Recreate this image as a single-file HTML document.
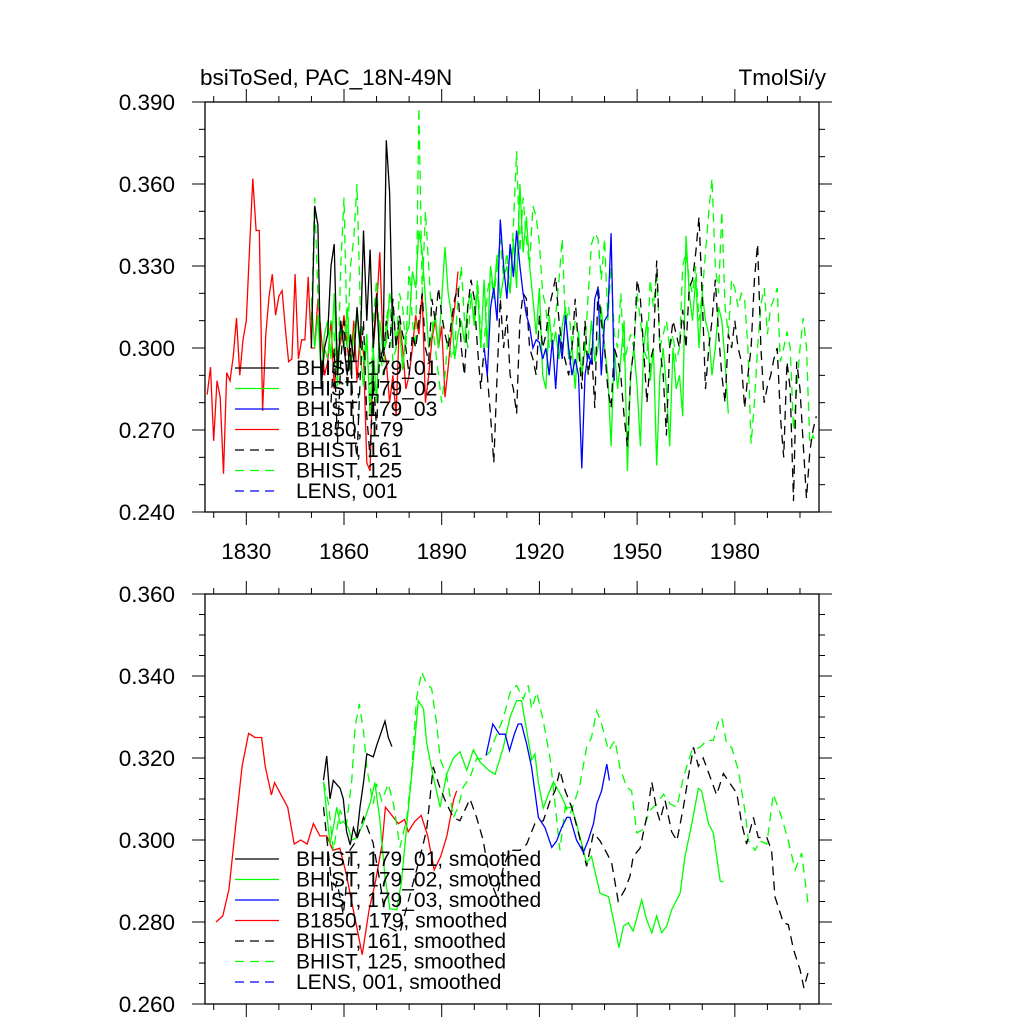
<!DOCTYPE html>
<html><head><meta charset="utf-8"><style>
html,body{margin:0;padding:0;background:#fff;}
svg{display:block;font-family:"Liberation Sans",sans-serif;}
</style></head><body>
<svg id="chart" width="1024" height="1024" viewBox="0 0 1024 1024" xmlns="http://www.w3.org/2000/svg">
<rect width="1024" height="1024" fill="#fff"/>
<text x="200" y="85" font-size="22.5">bsiToSed, PAC_18N-49N</text>
<text x="826" y="85" font-size="22.5" text-anchor="end">TmolSi/y</text>
<g id="g"></g>
</svg>
<script>
// ---------- data: top (raw annual) ----------
const redStart = 1818;
const redVals = [0.283,0.293,0.266,0.288,0.282,0.254,0.291,0.288,0.297,0.311,0.290,0.303,0.310,0.336,0.362,0.343,0.343,0.277,0.305,0.319,0.327,0.312,0.319,0.321,0.307,0.295,0.296,0.327,0.296,0.303,0.303,0.326,0.300,
0.300,0.318,0.305,0.290,0.295,0.310,0.285,0.298,0.302,0.312,0.300,0.292,0.310,0.288,0.306,0.298,0.258,0.255,0.300,0.315,0.335,0.300,0.295,0.280,0.290,0.275,0.310,0.300,0.285,0.290,0.300,0.312,0.305,0.320,0.280,0.290,0.303,0.310,0.300,0.308,0.282,0.293,0.306,0.315,0.328];
const blkStart = 1850;
const blkVals = [0.300,0.352,0.345,0.285,0.300,0.305,0.330,0.338,0.290,0.310,0.300,0.290,0.305,0.295,0.315,0.300,0.343,0.310,0.336,0.300,0.320,0.295,0.300,0.376,0.357,0.300];
const grnStart = 1850;
const grnVals = [0.318,0.300,0.312,0.290,0.305,0.310,0.296,0.320,0.288,0.308,
0.300,0.315,0.292,0.305,0.312,0.298,0.286,0.305,0.275,0.300,
0.280,0.310,0.298,0.302,0.320,0.315,0.300,0.310,0.292,0.305,
0.308,0.328,0.322,0.343,0.335,0.318,0.300,0.305,0.312,0.300,
0.318,0.337,0.320,0.312,0.296,0.305,0.310,0.302,0.316,0.320,
0.308,0.322,0.300,0.325,0.300,0.330,0.320,0.334,0.318,0.326,
0.330,0.320,0.340,0.322,0.360,0.335,0.348,0.330,0.318,0.305,
0.322,0.290,0.285,0.312,0.300,0.306,0.296,0.308,0.315,0.296,
0.300,0.285,0.306,0.290,0.300,0.296,0.310,0.295,0.300,0.315,
0.300,0.290,0.264,0.300,0.285,0.296,0.310,0.255,0.290,0.300,
0.286,0.264,0.300,0.310,0.288,0.300,0.257,0.290,0.300,0.285,
0.264,0.300,0.285,0.290,0.275,0.341,0.320,0.310,0.326,0.300,
0.320,0.310,0.305,0.290,0.300,0.315,0.310,0.295,0.276];
const bluStart = 1903;
const bluVals = [0.300,0.290,0.315,0.322,0.310,0.347,0.330,0.318,0.338,0.326,
0.343,0.330,0.320,0.312,0.308,0.300,0.303,0.302,0.296,0.300,
0.290,0.303,0.285,0.305,0.296,0.312,0.300,0.290,0.296,0.290,
0.256,0.290,0.298,0.294,0.318,0.322,0.290,0.310,0.312,0.342,0.288];
const b161Start = 1856;
const b161Vals = [0.280,0.300,0.265,0.295,0.310,0.285,0.300,0.270,0.260,0.290,0.310,0.275,0.260,0.290,
0.270,0.300,0.295,0.310,0.300,0.318,0.300,0.312,0.305,0.300,
0.290,0.305,0.300,0.310,0.320,0.300,0.295,0.318,0.310,0.322,
0.312,0.305,0.300,0.310,0.318,0.322,0.300,0.290,0.315,0.325,
0.318,0.300,0.285,0.300,0.290,0.275,0.258,0.290,0.318,0.300,
0.312,0.290,0.285,0.276,0.310,0.320,0.318,0.300,0.296,0.290,
0.312,0.300,0.305,0.315,0.320,0.326,0.310,0.300,0.295,0.290,
0.300,0.318,0.300,0.285,0.310,0.290,0.300,0.278,0.323,0.310,
0.300,0.285,0.278,0.300,0.296,0.290,0.275,0.264,0.290,0.300,
0.325,0.318,0.300,0.280,0.295,0.300,0.332,0.300,0.290,0.268,
0.300,0.310,0.305,0.300,0.314,0.300,0.322,0.325,0.335,0.348,
0.318,0.285,0.300,0.310,0.325,0.305,0.290,0.280,0.305,0.300,
0.310,0.300,0.295,0.278,0.290,0.300,0.325,0.338,0.300,0.280,
0.286,0.290,0.296,0.300,0.275,0.260,0.295,0.285,0.244,0.295,
0.285,0.265,0.245,0.262,0.270,0.275];
const g125Start = 1850;
const g125Vals = [0.310,0.355,0.320,0.290,0.300,0.296,0.310,0.305,0.285,0.330,
0.355,0.300,0.330,0.340,0.360,0.315,0.295,0.305,0.275,0.310,
0.325,0.300,0.290,0.310,0.318,0.295,0.300,0.320,0.315,0.300,
0.330,0.310,0.300,0.388,0.320,0.350,0.330,0.310,0.300,0.290,
0.280,0.290,0.305,0.296,0.300,0.318,0.330,0.310,0.300,0.320,
0.310,0.325,0.305,0.300,0.320,0.328,0.318,0.330,0.340,0.325,
0.335,0.320,0.345,0.372,0.335,0.355,0.340,0.330,0.352,0.348,
0.338,0.320,0.315,0.300,0.305,0.312,0.325,0.340,0.308,0.315,
0.300,0.310,0.305,0.290,0.300,0.320,0.338,0.342,0.340,0.325,
0.340,0.310,0.330,0.305,0.300,0.320,0.295,0.300,0.305,0.300,
0.320,0.310,0.300,0.296,0.325,0.315,0.328,0.300,0.305,0.310,
0.300,0.305,0.295,0.300,0.330,0.335,0.325,0.320,0.330,0.310,
0.320,0.335,0.350,0.362,0.330,0.320,0.350,0.315,0.305,0.325,
0.322,0.315,0.320,0.318,0.300,0.265,0.280,0.300,0.316,0.322,
0.305,0.315,0.318,0.322,0.295,0.300,0.306,0.300,0.270,0.285,
0.300,0.311,0.300,0.265,0.268,0.265];

// ---------- data: bottom (smoothed) ----------
const sRedYears = [1820.7,1822.8,1824.7,1826.8,1828.7,1830.7,1832.7,1834.7,1835.8,1837.7,1838.7,1840.7,1842.7,1844.7,1846.7,1848.7,1850.6,1852.6,1854.7,1856.6,1858.7,1860.6,1862.7,1864.7,1865.6,1867.7,1869.7,1871.7,1872.7,1874.7,1876.7,1878.6,1879.7,1881.7,1883.7,1885.7,1887.7,1889.7,1891.6,1893.7,1894.6];
const sRedVals = [0.280,0.2815,0.288,0.304,0.318,0.326,0.325,0.325,0.318,0.311,0.314,0.311,0.308,0.299,0.300,0.299,0.304,0.301,0.301,0.2975,0.298,0.292,0.2836,0.2756,0.272,0.283,0.290,0.299,0.308,0.306,0.304,0.305,0.302,0.3045,0.306,0.301,0.2927,0.296,0.301,0.310,0.312];
const sBlkYears = [1853.7,1854.7,1855.7,1856.7,1858.8,1859.8,1860.8,1861.9,1862.9,1863.9,1864.9,1866,1867,1869,1870,1872.6,1873.6,1874.7];
const sBlkVals = [0.3146,0.3205,0.310,0.3145,0.3126,0.310,0.302,0.2988,0.303,0.3006,0.308,0.314,0.321,0.3203,0.323,0.329,0.325,0.3228];
const sGrnYears = [1853.7,1855.7,1856.7,1857.8,1858.8,1859.8,1861.3,1862.4,1863.9,1865.9,1868,1869.5,1871,1872.6,1874.1,1876.2,1877.7,1879.3,1881.3,1882.8,1884.4,1885.4,1887.4,1889.5,1891.5,1893.6,1895.6,1897.7,1899.7,1901.8,1904.4,1906.4,1908.9,1911,1913,1914.5,1916.1,1917.6,1918.6,1919.7,1921.2,1922.7,1924.3,1926.3,1928.4,1929.9,1931.4,1933.5,1934.5,1936,1938.6,1941.2,1942.7,1944.4,1945.8,1947.3,1948.8,1951.4,1952.9,1954.5,1956,1957.5,1959.1,1960.6,1963.2,1964.7,1966.8,1968.8,1969.8,1971.9,1973.4,1975.5,1976.5];
const sGrnVals = [0.3142,0.299,0.303,0.308,0.304,0.3045,0.303,0.300,0.3005,0.304,0.309,0.314,0.305,0.291,0.2832,0.283,0.290,0.304,0.320,0.334,0.332,0.3236,0.3155,0.308,0.316,0.320,0.3215,0.317,0.322,0.319,0.317,0.316,0.3226,0.330,0.334,0.334,0.3267,0.3195,0.321,0.314,0.3078,0.311,0.3142,0.3114,0.3078,0.308,0.304,0.2975,0.2944,0.296,0.287,0.2862,0.2806,0.2737,0.279,0.2798,0.2778,0.2854,0.2806,0.2774,0.2815,0.2774,0.279,0.283,0.287,0.296,0.304,0.3126,0.312,0.304,0.3017,0.290,0.2897];
const sBluYears = [1903.6,1905.7,1907.7,1909.5,1910.8,1912.3,1913.5,1914.5,1916.1,1917.6,1919.7,1921.7,1923.8,1925.3,1926.8,1928.4,1929.4,1931.4,1933.5,1935,1936.6,1937.6,1939.1,1940.7,1941.5];
const sBluVals = [0.3206,0.3283,0.3258,0.3258,0.3218,0.3258,0.3283,0.3283,0.3234,0.3177,0.3055,0.303,0.2982,0.2998,0.303,0.3055,0.3055,0.300,0.297,0.300,0.304,0.3088,0.312,0.3185,0.3145];
const s161Years = [1853.7,1855.2,1856.7,1857.8,1859.8,1861.8,1863.9,1866,1868.9,1871,1873.1,1877.2,1879.3,1883.4,1885.4,1887.4,1889.5,1891.5,1893.6,1895.6,1898.7,1900.7,1902.7,1904.8,1906.9,1909,1911,1914,1916.1,1918.6,1921.2,1923.3,1924.8,1926.3,1927.9,1929.9,1931.9,1934.5,1936.6,1938.6,1940.7,1942.2,1944.2,1946.3,1947.8,1948.8,1950.9,1952.9,1954.5,1956,1957,1958.6,1960.6,1962.2,1964.2,1965.7,1967.3,1968.8,1970.3,1972.4,1974.4,1976.5,1978.5,1980.6,1982.1,1983.6,1985.7,1987.2,1989.8,1991.3,1992.3,1994.9,1996.4,1998,2000,2001.2,2002.6];
const s161Vals = [0.308,0.2968,0.2855,0.290,0.2818,0.2975,0.300,0.3055,0.2994,0.290,0.279,0.2774,0.2838,0.296,0.3026,0.3178,0.3126,0.3088,0.3055,0.3047,0.310,0.3055,0.300,0.2904,0.2862,0.2936,0.2975,0.2975,0.299,0.304,0.3047,0.3096,0.312,0.317,0.312,0.308,0.302,0.2936,0.3017,0.2998,0.2968,0.2944,0.2851,0.288,0.2912,0.296,0.298,0.3055,0.3142,0.3072,0.3047,0.3096,0.302,0.2998,0.308,0.3154,0.3226,0.318,0.320,0.3154,0.311,0.3162,0.3138,0.3114,0.304,0.299,0.3055,0.3006,0.3006,0.2975,0.2862,0.2798,0.2794,0.2733,0.2684,0.2639,0.268];
const s125Years = [1853.7,1855.2,1856.7,1858.8,1860.8,1862.4,1863.4,1864.7,1866,1867,1868,1869,1870,1871.6,1873.6,1875.2,1877.2,1879.3,1880.8,1882.3,1883.9,1885.4,1886.9,1888.5,1889.5,1891.5,1893.6,1895.1,1896.6,1898.7,1900.7,1902.7,1904.8,1906.9,1909,1911,1913,1915,1916.6,1917.6,1919.2,1921.2,1923.3,1924.8,1926.3,1927.9,1929.4,1930.9,1932.5,1934.5,1936,1937.6,1939.1,1941.2,1943.2,1944.7,1946.8,1948.3,1949.9,1951.9,1953.9,1956,1958.1,1960.1,1962.2,1964.2,1966.8,1969.3,1971.4,1973.4,1975,1976,1977.5,1979,1981.1,1983.1,1984.2,1986.2,1987.7,1989.8,1991.8,1994.4,1996.4,1998.5,2000.5,2002.6];
const s125Vals = [0.3142,0.309,0.2975,0.3072,0.304,0.3146,0.3275,0.3332,0.3267,0.3177,0.3129,0.3088,0.3137,0.3096,0.3137,0.3088,0.2982,0.3055,0.3169,0.3348,0.341,0.338,0.337,0.328,0.3198,0.3158,0.3055,0.308,0.3129,0.3153,0.3198,0.3198,0.3215,0.3258,0.3299,0.336,0.3377,0.3344,0.3377,0.332,0.336,0.329,0.3198,0.3088,0.2975,0.308,0.3063,0.3096,0.3137,0.3226,0.325,0.3315,0.3283,0.3218,0.3243,0.3177,0.3129,0.312,0.3017,0.3026,0.3072,0.3088,0.3112,0.3088,0.308,0.3153,0.3218,0.3226,0.3243,0.3243,0.329,0.3299,0.3234,0.3226,0.3169,0.3072,0.2998,0.2975,0.2998,0.299,0.3112,0.3055,0.2998,0.2927,0.2968,0.2838];

// ---------- axes ----------
const topYTicks = ["0.240","0.270","0.300","0.330","0.360","0.390"];
const botYTicks = ["0.260","0.280","0.300","0.320","0.340","0.360"];
const xTickYears = [1830,1860,1890,1920,1950,1980];
const legendTop = ["BHIST, 179_01","BHIST, 179_02","BHIST, 179_03","B1850, 179","BHIST, 161","BHIST, 125","LENS, 001"];
const legendBot = ["BHIST, 179_01, smoothed","BHIST, 179_02, smoothed","BHIST, 179_03, smoothed","B1850, 179, smoothed","BHIST, 161, smoothed","BHIST, 125, smoothed","LENS, 001, smoothed"];

const L=205,R=819,T1=102,B1=512,T2=594,B2=1004;
const x = yr => 344 + (yr-1860)*3.257;
const yTop = v => T1 + (0.390-v)*2733.3;
const yBot = v => T2 + (0.360-v)*4100;
const NS="http://www.w3.org/2000/svg";
const g=document.getElementById('g');
function mk(tag,attrs,parent){const e=document.createElementNS(NS,tag);for(const k in attrs)e.setAttribute(k,attrs[k]);(parent||g).appendChild(e);return e;}

const defs=mk('defs',{});
const c1=mk('clipPath',{id:'c1'},defs);mk('rect',{x:L,y:T1,width:R-L,height:B1-T1},c1);
const c2=mk('clipPath',{id:'c2'},defs);mk('rect',{x:L,y:T2,width:R-L,height:B2-T2},c2);

const colors=['#000','#00ff00','#0000ff','#ff0000','#000','#00ff00','#0000ff'];
const dashes=['','','','','9,6','9,6','9,6'];

function axes(top,bot,ticks,lo,step,minorStep,yf,name,showX){
  const fr=mk('rect',{x:L,y:top,width:R-L,height:bot-top,fill:'none',stroke:'#000','stroke-width':1.3});
  
  
  const nMinor=Math.round((parseFloat(ticks[ticks.length-1])-lo)/minorStep);
  for(let i=0;i<=nMinor;i++){
    const v=lo+i*minorStep;const yy=yf(v);
    const major=Math.abs(((v-lo)/step)-Math.round((v-lo)/step))<1e-6;
    const len=major?13:6;
    mk('line',{x1:L-len,x2:L,y1:yy,y2:yy,stroke:'#000','stroke-width':1});
    mk('line',{x1:R,x2:R+len,y1:yy,y2:yy,stroke:'#000','stroke-width':1});
  }
  ticks.forEach((t,i)=>{
    const tx=mk('text',{x:175,y:yf(parseFloat(t))+8,'font-size':22.5,'text-anchor':'end'});
    tx.textContent=t;
    
    
  });
  for(let yr=1820;yr<=2000;yr+=10){
    const xx=x(yr); if(xx<L||xx>R)continue;
    const major=(yr-1830)%30===0; const len=major?13:6;
    mk('line',{x1:xx,x2:xx,y1:top-len,y2:top,stroke:'#000','stroke-width':1});
    mk('line',{x1:xx,x2:xx,y1:bot,y2:bot+len,stroke:'#000','stroke-width':1});
  }
  if(showX){
    xTickYears.forEach(yr=>{
      const tx=mk('text',{x:x(yr),y:bot+47,'font-size':22.5,'text-anchor':'middle'});
      tx.textContent=yr;
      
      
    });
  }
}
axes(T1,B1,topYTicks,0.240,0.030,0.010,yTop,'top-panel',true);
axes(T2,B2,botYTicks,0.260,0.020,0.005,yBot,'bottom-panel',false);

function series(years,vals,idx,yf,clip,name){
  const pts=vals.map((v,i)=>x(years[i]).toFixed(1)+','+yf(v).toFixed(1)).join(' ');
  const p=mk('polyline',{points:pts,fill:'none',stroke:colors[idx],'stroke-width':1.3,'stroke-dasharray':dashes[idx],'clip-path':'url(#'+clip+')'});
  
  
}
const seq=(s,n)=>Array.from({length:n},(_,i)=>s+i);
series(seq(redStart,redVals.length),redVals,3,yTop,'c1','b1850-179-line');
series(seq(grnStart,grnVals.length),grnVals,1,yTop,'c1','bhist-179-02-line');
series(seq(g125Start,g125Vals.length),g125Vals,5,yTop,'c1','bhist-125-line');
series(seq(b161Start,b161Vals.length),b161Vals,4,yTop,'c1','bhist-161-line');
series(seq(bluStart,bluVals.length),bluVals,2,yTop,'c1','bhist-179-03-line');
series(seq(blkStart,blkVals.length),blkVals,0,yTop,'c1','bhist-179-01-line');

series(sRedYears,sRedVals,3,yBot,'c2','b1850-179-smoothed-line');
series(sGrnYears,sGrnVals,1,yBot,'c2','bhist-179-02-smoothed-line');
series(s125Years,s125Vals,5,yBot,'c2','bhist-125-smoothed-line');
series(s161Years,s161Vals,4,yBot,'c2','bhist-161-smoothed-line');
series(sBluYears,sBluVals,2,yBot,'c2','bhist-179-03-smoothed-line');
series(sBlkYears,sBlkVals,0,yBot,'c2','bhist-179-01-smoothed-line');

function legend(labels,y0,name){
  labels.forEach((t,i)=>{
    const yy=y0+i*20.5;
    const ln=mk('line',{x1:235,x2:279,y1:yy,y2:yy,stroke:colors[i],'stroke-width':1.3,'stroke-dasharray':dashes[i]});
    
    
    const tx=mk('text',{x:296,y:yy+7,'font-size':21});
    tx.textContent=t;
    
    
  });
}
legend(legendTop,368,'top-legend-entry');
legend(legendBot,859,'bottom-legend-entry');
</script>
</body></html>
